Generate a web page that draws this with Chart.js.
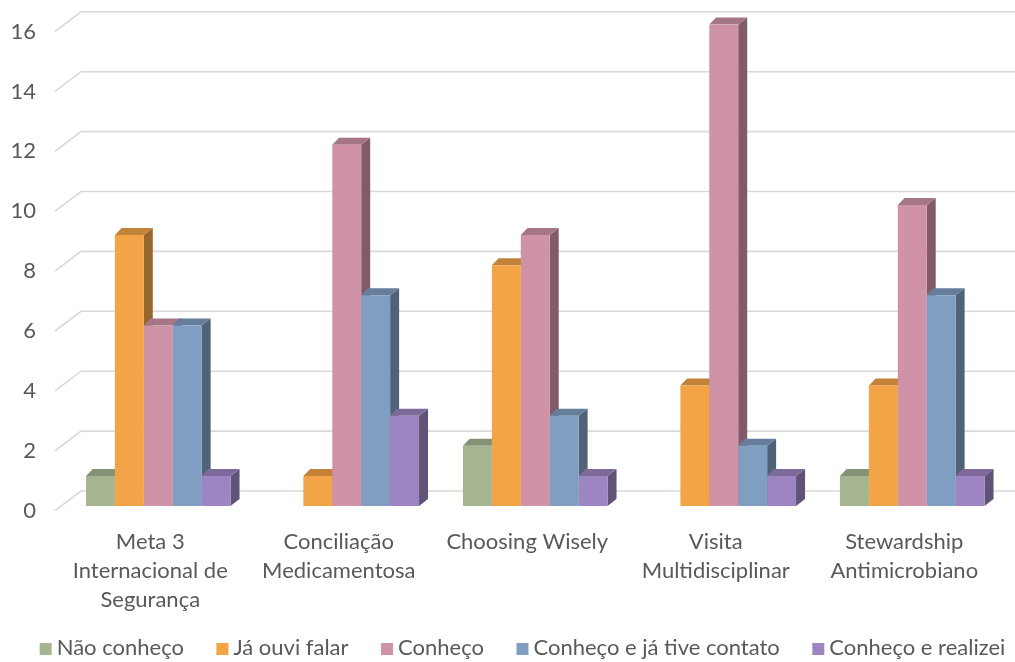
<!DOCTYPE html>
<html>
<head>
<meta charset="utf-8">
<script src="https://cdn.jsdelivr.net/npm/chart.js@4/dist/chart.umd.min.js"></script>
<style>
  html, body { margin: 0; padding: 0; background: #ffffff; }
  #wrap { width: 1015px; height: 662px; position: relative; }
</style>
</head>
<body>
<div id="wrap"><canvas id="chart"></canvas></div>
<script>
// Categories (multi-line labels under each group)
const categories = [
  ['Meta 3', 'Internacional de', 'Segurança'],
  ['Conciliação', 'Medicamentosa'],
  'Choosing Wisely',
  ['Visita', 'Multidisciplinar'],
  ['Stewardship', 'Antimicrobiano']
];

// Series names and values
const seriesNames = ['Não conheço', 'Já ouvi falar', 'Conheço', 'Conheço e já tive contato', 'Conheço e realizei'];
const naoConheco      = [1, 0, 2, 0, 1];
const jaOuviFalar     = [9, 1, 8, 4, 4];
const conheco         = [6, 12, 9, 16, 10];
const conhecoContato  = [6, 7, 3, 2, 7];
const conhecoRealizei = [1, 3, 1, 1, 1];

// Value axis ticks
const yTicks = [0, 2, 4, 6, 8, 10, 12, 14, 16];

const seriesColors = ['#A5B592', '#F3A447', '#D092A7', '#809EC2', '#9C85C0'];
const FONT = 'Lato';
const TEXT = '#595959';

function shade(hex, f) {
  const n = parseInt(hex.slice(1), 16);
  const r = Math.round(((n >> 16) & 255) * f);
  const g = Math.round(((n >> 8) & 255) * f);
  const b = Math.round((n & 255) * f);
  return `rgb(${r},${g},${b})`;
}

// Pseudo-3D: back-wall gridlines, value labels and bar depth faces
const depth3d = {
  id: 'depth3d',
  beforeDatasetsDraw(chart) {
    const ctx = chart.ctx;
    const y = chart.scales.y;
    const area = chart.chartArea;
    const bottom = y.getPixelForValue(0);

    // gridlines: short diagonal on the floor edge, then along the back wall
    ctx.save();
    ctx.strokeStyle = '#d9d9d9';
    ctx.lineWidth = 1.6;
    ctx.font = `22px ${FONT}`;
    ctx.fillStyle = TEXT;
    ctx.textAlign = 'right';
    ctx.textBaseline = 'middle';
    yTicks.forEach(v => {
      const g = bottom - (bottom - y.getPixelForValue(v)) * 0.995;
      const front = g + 4.7;
      const back = g - 15;
      ctx.beginPath();
      ctx.moveTo(area.left - 9, front);
      ctx.lineTo(area.left + 17, back);
      ctx.lineTo(chart.width, back);
      ctx.stroke();
      ctx.fillText(String(v), 36, front);
    });
    ctx.restore();

    // top and side faces of each bar (front faces are drawn by the library)
    const dx = 9, dy = -7;
    ctx.save();
    chart.data.datasets.forEach((ds, di) => {
      const meta = chart.getDatasetMeta(di);
      const base = ds.backgroundColor;
      meta.data.forEach((bar, i) => {
        if (!ds.data[i]) return;
        const { x, y: top, base: bot, width } = bar.getProps(['x', 'y', 'base', 'width'], true);
        const l = x - width / 2, r = x + width / 2;
        ctx.fillStyle = shade(base, 0.62);
        ctx.beginPath();
        ctx.moveTo(r, top);
        ctx.lineTo(r + dx, top + dy);
        ctx.lineTo(r + dx, bot + dy);
        ctx.lineTo(r, bot);
        ctx.closePath();
        ctx.fill();
        ctx.fillStyle = shade(base, 0.8);
        ctx.beginPath();
        ctx.moveTo(l, top);
        ctx.lineTo(l + dx * 0.75, top + dy);
        ctx.lineTo(r + dx, top + dy);
        ctx.lineTo(r, top);
        ctx.closePath();
        ctx.fill();
      });
    });
    ctx.restore();
  },
  // single-row legend along the bottom edge
  afterDraw(chart) {
    const ctx = chart.ctx;
    ctx.save();
    ctx.font = `22px ${FONT}`;
    ctx.textBaseline = 'middle';
    ctx.textAlign = 'left';
    const box = 12, gap = 5, spacing = 32.5, cy = 648;
    const widths = chart.data.datasets.map(ds => box + gap + ctx.measureText(ds.label).width);
    const total = widths.reduce((a, b) => a + b, 0) + spacing * (widths.length - 1);
    let x = 522.5 - total / 2;
    chart.data.datasets.forEach((ds, i) => {
      ctx.fillStyle = ds.backgroundColor;
      ctx.fillRect(x, cy - box / 2 + 1, box, box);
      ctx.fillStyle = TEXT;
      ctx.fillText(ds.label, x + box + gap, cy);
      x += widths[i] + spacing;
    });
    ctx.restore();
  }
};

const seriesValues = [naoConheco, jaOuviFalar, conheco, conhecoContato, conhecoRealizei];

new Chart(document.getElementById('chart'), {
  type: 'bar',
  data: {
    labels: categories,
    datasets: seriesNames.map((name, i) => ({
      label: name,
      data: seriesValues[i],
      backgroundColor: seriesColors[i],
      borderWidth: 0,
      categoryPercentage: 0.767,
      barPercentage: 1.0
    }))
  },
  options: {
    responsive: true,
    maintainAspectRatio: false,
    animation: false,
    layout: { padding: { left: 64, right: 8.5, top: 24.4, bottom: 40 } },
    plugins: {
      tooltip: { enabled: false },
      legend: { display: false }
    },
    scales: {
      x: {
        grid: { display: false },
        border: { display: false },
        afterFit(scale) { scale.height = 116; },
        ticks: {
          color: TEXT,
          font: { family: FONT, size: 22, lineHeight: 1.32 },
          labelOffset: -8,
          padding: 13,
          maxRotation: 0,
          autoSkip: false
        }
      },
      y: {
        display: false,
        min: 0,
        max: 16
      }
    }
  },
  plugins: [depth3d]
});
</script>
</body>
</html>
